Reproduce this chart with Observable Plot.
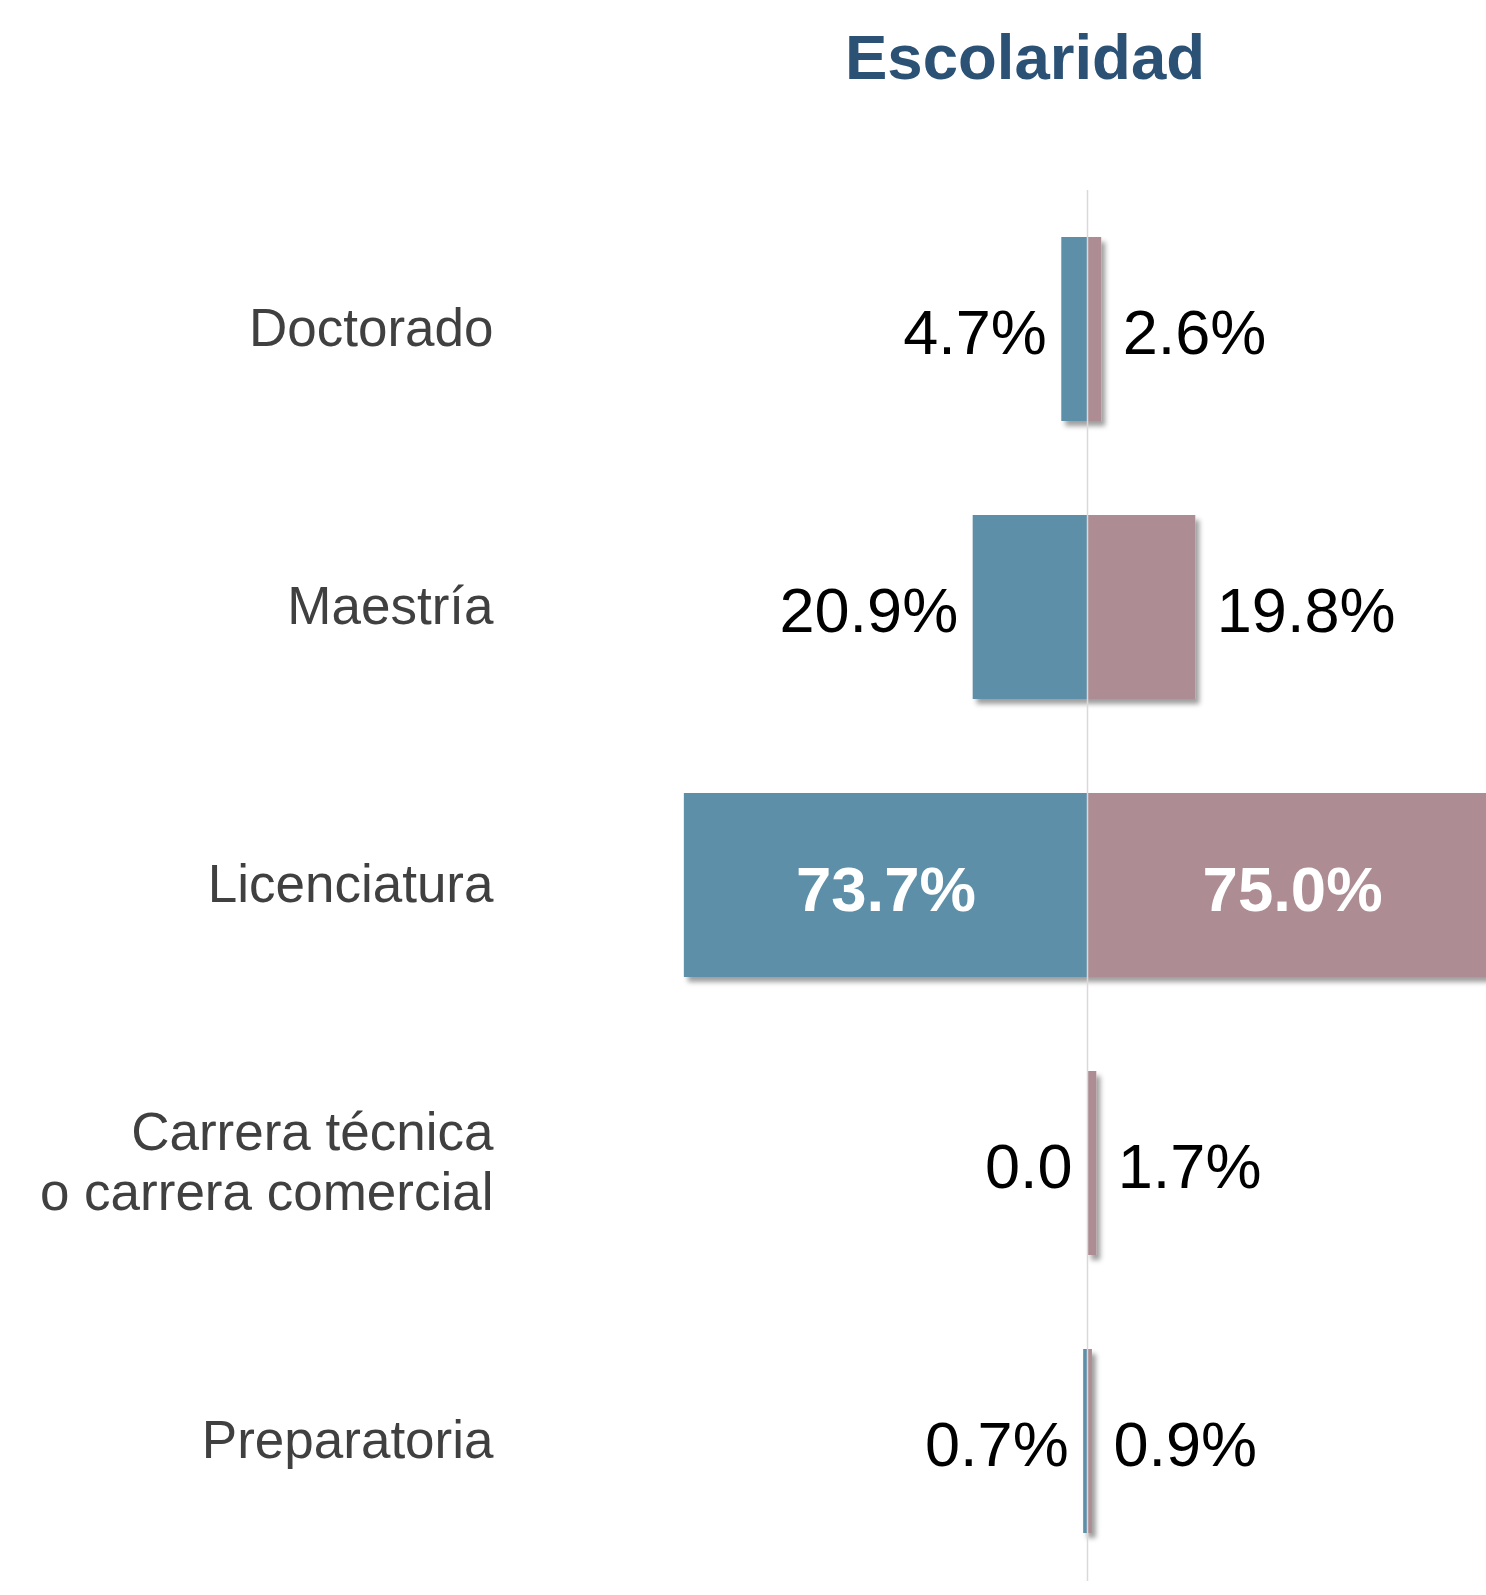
<!DOCTYPE html>
<html><head><meta charset="utf-8">
<script src="https://cdn.jsdelivr.net/npm/d3@7"></script>
<script src="https://cdn.jsdelivr.net/npm/@observablehq/plot@0.6"></script>
<style>
body{margin:0;background:#fff;}
#wrap{position:relative;width:1486px;height:1595px;overflow:hidden;}
#title{position:absolute;top:26px;left:1025px;transform:translateX(-50%);font:bold 63.5px "Liberation Sans",Arial,sans-serif;line-height:63px;color:#2b5275;white-space:nowrap;z-index:2;}
</style></head><body>
<div id="wrap"><div id="title">Escolaridad</div><div id="chart"></div></div>
<script>
const categories = ["Doctorado","Maestría","Licenciatura","Carrera técnica\no carrera comercial","Preparatoria"];
const series = ["Hombres","Mujeres"];
const hombres = [4.7,20.9,73.7,0.0,0.7];
const mujeres = [2.6,19.8,75.0,1.7,0.9];
const labelsHombres = ["4.7%","20.9%","73.7%","0.0","0.7%"];
const labelsMujeres = ["2.6%","19.8%","75.0%","1.7%","0.9%"];
const colors = ["#5d90a8","#ae8c93"];

const rows = [];
categories.forEach((c,i)=>{
  rows.push({cat:c, serie:series[0], value:-hombres[i], label:labelsHombres[i]});
  rows.push({cat:c, serie:series[1], value:mujeres[i], label:labelsMujeres[i]});
});
const inside = d => Math.abs(d.value) > 50;

const chart = Plot.plot({
  width:1486, height:1595,
  marginLeft:500, marginRight:0, marginTop:190, marginBottom:14,
  style:{fontFamily:'"Liberation Sans", Arial, sans-serif', background:"transparent"},
  x:{domain:[-100,100], range:[1087-547,1087+547], axis:null},
  y:{domain:categories, paddingInner:0.337, paddingOuter:0.165},
  color:{domain:series, range:colors},
  marks:[
    Plot.barX(rows,{x1:0, x2:"value", y:"cat", fill:"serie"}),
    Plot.ruleX([0],{stroke:"#d9d9d9", strokeWidth:1.5}),
    Plot.text(rows.filter(d=>!inside(d) && d.serie===series[0]), {x:"value", y:"cat", text:"label", textAnchor:"end", dx:-15, dy:4, fontSize:63, fill:"#000"}),
    Plot.text(rows.filter(d=>!inside(d) && d.serie===series[1]), {x:"value", y:"cat", text:"label", textAnchor:"start", dx:21, dy:4, fontSize:63, fill:"#000"}),
    Plot.text(rows.filter(inside), {x:d=>d.value/2, y:"cat", text:"label", textAnchor:"middle", dy:5, fontSize:63.5, fontWeight:"bold", fill:"#fff"}),
    Plot.axisY({tickSize:0, tickPadding:7, dy:-3, fontSize:53, fill:"#404040", lineHeight:1.15, label:null})
  ]
});

const ns = "http://www.w3.org/2000/svg";
const defs = document.createElementNS(ns,"defs");
defs.innerHTML = '<filter id="shadow" filterUnits="userSpaceOnUse" x="0" y="0" width="1800" height="1700"><feDropShadow dx="4" dy="5" stdDeviation="2.5" flood-color="#000" flood-opacity="0.38"/></filter>';
chart.insertBefore(defs, chart.firstChild);
const barG = chart.querySelector('g[aria-label="bar"]');
if (barG) barG.setAttribute("filter","url(#shadow)");
document.getElementById("chart").appendChild(chart);
</script>
</body></html>
